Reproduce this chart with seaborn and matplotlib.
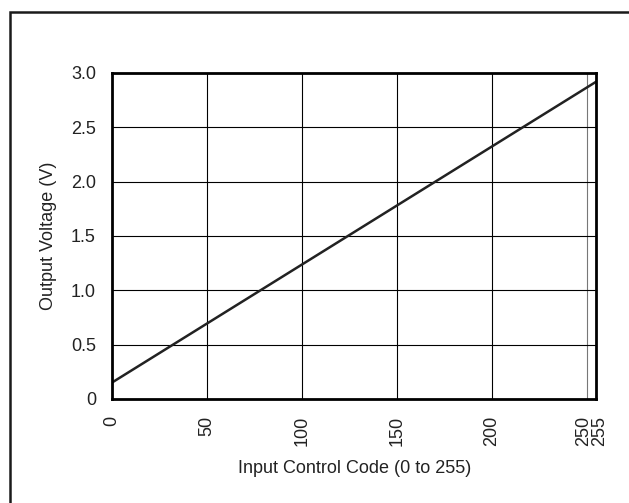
import matplotlib
matplotlib.use('Agg')
import matplotlib.pyplot as plt
import seaborn as sns
import pandas as pd

# dados
codes = [0, 255]
volts = [0.15, 2.92]
x_ticks = [0, 50, 100, 150, 200, 250, 255]
y_ticks = [0, 0.5, 1.0, 1.5, 2.0, 2.5, 3.0]
y_labels = ['0', '0.5', '1.0', '1.5', '2.0', '2.5', '3.0']

df = pd.DataFrame({'code': codes, 'volt': volts})

sns.set_style('white')
plt.rcParams['font.family'] = ['Liberation Sans', 'DejaVu Sans']

fig = plt.figure(figsize=(6.29, 5.03), dpi=100)
ax = fig.add_axes([0.178, 0.207, 0.770, 0.648])

# moldura externa (só esquerda e topo visíveis)
fig.patches.append(plt.Rectangle((0.0159, -0.1), 1.2, 1.076, transform=fig.transFigure,
                                 fill=False, edgecolor='#1a1a1a', linewidth=1.8))

sns.lineplot(data=df, x='code', y='volt', ax=ax, color='#222222', linewidth=1.8)

ax.set_xlim(0, 255)
ax.set_ylim(0, 3.0)
ax.set_xticks(x_ticks)
# 250 e 255 ficam muito juntos: rótulos desenhados à parte, afastados
ax.set_xticklabels([str(t) if t < 250 else '' for t in x_ticks], rotation=90)
ax.set_yticks(y_ticks)
ax.set_yticklabels(y_labels)
for t, dx in [(250, -2), (255, 2.5)]:
    ax.annotate(str(t), xy=(t, 0), xycoords=('data', 'axes fraction'),
                xytext=(dx, -12), textcoords='offset points',
                rotation=90, ha='center', va='top', fontsize=13, color='#222222')

for v in [50, 100, 150, 200]:
    ax.axvline(v, color='black', linewidth=0.8, zorder=0)
ax.axvline(250, color='#777777', linewidth=0.8, zorder=0)
for v in [0.5, 1.0, 1.5, 2.0, 2.5]:
    ax.axhline(v, color='black', linewidth=0.8, zorder=0)

for s in ax.spines.values():
    s.set_visible(True)
    s.set_linewidth(2)
    s.set_color('black')

ax.tick_params(axis='x', length=0, pad=12, labelsize=13, labelcolor='#222222')
ax.tick_params(axis='y', length=0, pad=11.5, labelsize=13, labelcolor='#222222')
ax.set_xlabel('Input Control Code (0 to 255)', fontsize=13, color='#222222', labelpad=10)
ax.set_ylabel('Output Voltage (V)', fontsize=13, color='#222222', labelpad=10)

fig.savefig('out.png', dpi=100)
